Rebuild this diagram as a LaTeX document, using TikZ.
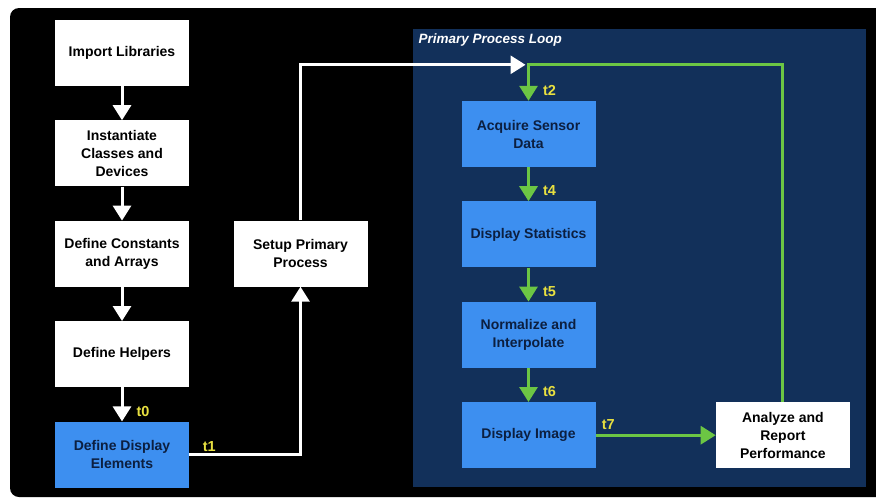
\documentclass[tikz,border=0pt]{standalone}
\usepackage{fontspec}
\setmainfont{Liberation Sans}
\usetikzlibrary{arrows.meta,positioning}

\definecolor{loopnavy}{HTML}{12305A}
\definecolor{stepblue}{HTML}{3D8FF0}
\definecolor{stepink}{HTML}{0C1F40}
\definecolor{flowgreen}{HTML}{6CC644}
\definecolor{tagyellow}{HTML}{E8E040}

\begin{document}
\begin{tikzpicture}[
  x=1pt, y=-1pt,
  node distance=34pt,
  box/.style={fill=white, text=black, align=center, minimum width=134pt, minimum height=66pt, font=\bfseries\fontsize{14}{18}\selectfont},
  loopbox/.style={box, fill=stepblue, text=stepink},
  warr/.style={-{Triangle[width=18pt,length=15pt]}, white, line width=3pt},
  garr/.style={-{Triangle[width=18pt,length=15pt]}, flowgreen, line width=3pt},
  tag/.style={text=tagyellow, inner sep=1pt, font=\bfseries\fontsize{14.5}{16}\selectfont}
]
\useasboundingbox (0,0) rectangle (876,498);
% backdrop and loop region
\fill[black, rounded corners=9pt] (10,8) rectangle (892,497);
\fill[loopnavy] (413,29) rectangle (866,487);
\node[anchor=west, text=white, font=\bfseries\itshape\fontsize{13.5}{16}\selectfont] (looptitle) at (415,40) {Primary Process Loop};

% setup steps
\node[box] (imp) at (122,53) {Import Libraries};
\node[box, below=of imp] (inst) {Instantiate\\Classes and\\Devices};
\node[box, below=of inst] (const) {Define Constants\\and Arrays};
\node[box, below=of const] (help) {Define Helpers};
\node[loopbox, below=of help] (disp) {Define Display\\Elements};
\node[box] (setup) at (300.5,253.5) {Setup Primary\\Process};

% loop steps
\node[loopbox] (acq) at (528.5,134) {Acquire Sensor\\Data};
\node[loopbox, below=of acq] (stats) {Display Statistics};
\node[loopbox, below=of stats] (norm) {Normalize and\\Interpolate};
\node[loopbox, below=of norm] (dimg) {Display Image};
\node[box, right=120pt of dimg] (perf) {Analyze and\\Report\\Performance};
\coordinate[above=36pt of acq.north] (loopin);

\draw[warr] (imp) -- (inst);
\draw[warr] (inst) -- (const);
\draw[warr] (const) -- (help);
\draw[warr] (help) -- node[tag, right=12pt, pos=0.7]{t0} (disp);
\draw[warr] (disp.east) -| node[tag, anchor=south west, pos=0.05]{t1} (setup.south);
\draw[warr, shorten >=3pt] (setup.north) |- (loopin);

\draw[garr] (perf.north) |- (loopin) -- node[tag, right=12pt, pos=0.7]{t2} (acq.north);
\draw[garr] (acq) -- node[tag, right=12pt, pos=0.7]{t4} (stats);
\draw[garr] (stats) -- node[tag, right=12pt, pos=0.7]{t5} (norm);
\draw[garr] (norm) -- node[tag, right=12pt, pos=0.7]{t6} (dimg);
\draw[garr] (dimg) -- node[tag, anchor=south west, pos=0.03, yshift=3pt]{t7} (perf);
\end{tikzpicture}
\end{document}
